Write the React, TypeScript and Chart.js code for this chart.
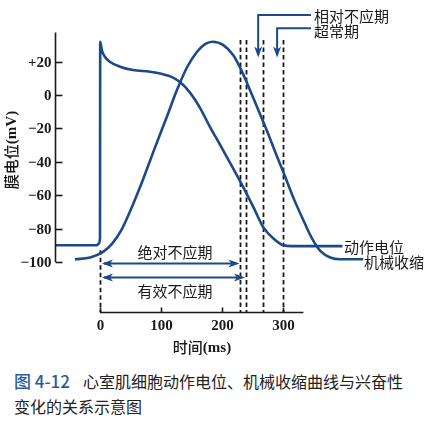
import React, { useEffect, useRef } from "react";
import { Chart, registerables } from "chart.js";

Chart.register(...registerables);

// ---- data (time in ms, potential in mV) ----
const apTime = [-72, -5, -2, 0, 0.4, 3, 8, 16, 33, 54, 82, 102, 118, 131, 148, 164, 180, 197, 230, 251, 267, 284, 300, 315, 397];
const apMv = [-90, -90, -89, -86, 32, 27, 23, 20, 17, 15, 14, 12.6, 10.8, 7.8, 1.2, -7.8, -19, -30, -52, -67, -79, -86, -90, -90.5, -90.5];

const mcTime = [-41, -16, 5, 20, 35, 50, 70, 90, 110, 126, 143, 159, 172, 184, 202, 218, 230, 241, 257, 274, 290, 300, 316, 333, 348, 361, 377, 393, 431];
const mcVal = [-98.4, -97.3, -94, -89, -81, -69, -51, -31.5, -12.5, 3, 17, 26, 30.5, 32, 30, 24, 16, 7, -7, -22, -37, -46, -61, -75, -86.5, -93.5, -97.3, -98.4, -98.4];

const yTicks = [20, 0, -20, -40, -60, -80, -100];
const yTickLabels = ["+20", "0", "\u221220", "\u221240", "\u221260", "\u221280", "\u2212100"];
const xTicks = [0, 100, 200, 300];
const xTickLabels = ["0", "100", "200", "300"];

const dashedTimes = [230, 239, 267, 300];
const arpEnd = 230;
const erpEnd = 239;
const rrpArrowX = 259;
const snpArrowX = 290;

const BLUE = "#1c4a88";
const INK = "#1a1a1a";
const CJK = '"Noto Sans CJK SC", "Noto Sans", sans-serif';
const NUM = '"Liberation Serif", "DejaVu Serif", serif';

function arrowHead(ctx: CanvasRenderingContext2D, x: number, y: number, dir: "l" | "r" | "d") {
  ctx.beginPath();
  if (dir === "l") {
    ctx.moveTo(x, y);
    ctx.lineTo(x + 11, y - 4);
    ctx.lineTo(x + 8, y);
    ctx.lineTo(x + 11, y + 4);
  } else if (dir === "r") {
    ctx.moveTo(x, y);
    ctx.lineTo(x - 11, y - 4);
    ctx.lineTo(x - 8, y);
    ctx.lineTo(x - 11, y + 4);
  } else {
    ctx.moveTo(x, y);
    ctx.lineTo(x - 4, y - 11);
    ctx.lineTo(x, y - 8);
    ctx.lineTo(x + 4, y - 11);
  }
  ctx.closePath();
  ctx.fill();
}

const annotPlugin = {
  id: "annot",
  beforeDatasetsDraw(chart: any) {
    const { ctx, scales } = chart;
    const X = (v: number) => scales.x.getPixelForValue(v);
    const Y = (v: number) => scales.y.getPixelForValue(v);
    ctx.save();
    ctx.strokeStyle = INK;
    ctx.lineWidth = 1.8;
    ctx.setLineDash([4.5, 3]);
    for (const t of dashedTimes) {
      ctx.beginPath();
      ctx.moveTo(Math.round(X(t)) + 0.5, Y(33));
      ctx.lineTo(Math.round(X(t)) + 0.5, Y(-130));
      ctx.stroke();
    }
    ctx.beginPath();
    ctx.moveTo(Math.round(X(0)) + 0.5, Y(-93));
    ctx.lineTo(Math.round(X(0)) + 0.5, Y(-130));
    ctx.stroke();
    ctx.restore();
  },
  afterDatasetsDraw(chart: any) {
    const { ctx, scales } = chart;
    const X = (v: number) => scales.x.getPixelForValue(v);
    const Y = (v: number) => scales.y.getPixelForValue(v);
    ctx.save();
    // y axis
    ctx.strokeStyle = INK;
    ctx.lineWidth = 1.6;
    const ax = Math.round(X(-72)) - 0.5;
    ctx.beginPath();
    ctx.moveTo(ax, Y(37.5));
    ctx.lineTo(ax, Y(-100));
    ctx.stroke();
    ctx.fillStyle = INK;
    ctx.font = `bold 15px ${NUM}`;
    ctx.textAlign = "right";
    ctx.textBaseline = "middle";
    yTicks.forEach((t, i) => {
      const py = Math.round(Y(t)) + 0.5;
      ctx.beginPath();
      ctx.moveTo(ax, py);
      ctx.lineTo(ax + 7, py);
      ctx.stroke();
      ctx.fillText(yTickLabels[i], ax - 4, py + 1);
    });
    // x axis
    const ay = Math.round(Y(-130)) + 0.5;
    ctx.beginPath();
    ctx.moveTo(X(0), ay);
    ctx.lineTo(X(333), ay);
    ctx.stroke();
    ctx.textAlign = "center";
    ctx.textBaseline = "top";
    xTicks.forEach((t, i) => {
      const px = Math.round(X(t)) + 0.5;
      ctx.beginPath();
      ctx.moveTo(px, ay);
      ctx.lineTo(px, ay - 5);
      ctx.stroke();
      ctx.fillText(xTickLabels[i], px, ay + 6);
    });
    // axis titles
    ctx.textBaseline = "middle";
    const t1 = "时间";
    const t2 = "(ms)";
    ctx.font = `500 15px ${CJK}`;
    const w1 = ctx.measureText(t1).width;
    ctx.font = `bold 15px ${NUM}`;
    const w2 = ctx.measureText(t2).width;
    const sx = 202 - (w1 + w2) / 2;
    ctx.textAlign = "left";
    ctx.font = `500 15px ${CJK}`;
    ctx.fillText(t1, sx, 347);
    ctx.font = `bold 15px ${NUM}`;
    ctx.fillText(t2, sx + w1, 348);

    ctx.save();
    ctx.translate(11, 150);
    ctx.rotate(-Math.PI / 2);
    const y1 = "膜电位";
    const y2 = "(mV)";
    ctx.font = `500 15px ${CJK}`;
    const v1 = ctx.measureText(y1).width;
    ctx.font = `bold 15px ${NUM}`;
    const v2 = ctx.measureText(y2).width;
    const sy = -(v1 + v2) / 2;
    ctx.font = `500 15px ${CJK}`;
    ctx.fillText(y1, sy, 0);
    ctx.font = `bold 15px ${NUM}`;
    ctx.fillText(y2, sy + v1, 1);
    ctx.restore();

    // refractory arrows (blue)
    ctx.strokeStyle = BLUE;
    ctx.fillStyle = BLUE;
    ctx.lineWidth = 2;
    const yA = Y(-101);
    const yE = Y(-109.3);
    ctx.beginPath();
    ctx.moveTo(X(0) + 4, yA);
    ctx.lineTo(X(arpEnd) - 4, yA);
    ctx.stroke();
    arrowHead(ctx, X(0) + 2, yA, "l");
    arrowHead(ctx, X(arpEnd) - 1, yA, "r");
    ctx.beginPath();
    ctx.moveTo(X(0) + 4, yE);
    ctx.lineTo(X(erpEnd) - 4, yE);
    ctx.stroke();
    arrowHead(ctx, X(0) + 2, yE, "l");
    arrowHead(ctx, X(erpEnd) - 1, yE, "r");

    // top callout arrows
    const rx = X(rrpArrowX);
    const snx = X(snpArrowX);
    const labelX = 311;
    ctx.beginPath();
    ctx.moveTo(labelX, Y(48));
    ctx.lineTo(rx, Y(48));
    ctx.lineTo(rx, Y(24));
    ctx.stroke();
    arrowHead(ctx, rx, Y(22.5), "d");
    ctx.beginPath();
    ctx.moveTo(labelX, Y(40));
    ctx.lineTo(snx, Y(40));
    ctx.lineTo(snx, Y(24));
    ctx.stroke();
    arrowHead(ctx, snx, Y(22.5), "d");

    // texts
    ctx.fillStyle = INK;
    ctx.font = `15px ${CJK}`;
    ctx.textAlign = "left";
    ctx.textBaseline = "middle";
    ctx.fillText("相对不应期", 314, Y(48) + 1);
    ctx.fillText("超常期", 314, Y(39.5) + 2);
    ctx.fillText("动作电位", 344, 247);
    ctx.fillText("机械收缩", 364, 262);
    ctx.textAlign = "center";
    ctx.fillText("绝对不应期", X(123), 252);
    ctx.fillText("有效不应期", X(123), 291);
    ctx.restore();
  },
};

export default function App() {
  const ref = useRef<HTMLCanvasElement | null>(null);
  useEffect(() => {
    if (!ref.current) return;
    const chart = new Chart(ref.current, {
      type: "scatter",
      data: {
        datasets: [
          {
            label: "动作电位",
            data: apTime.map((t, i) => ({ x: t, y: apMv[i] })),
            showLine: true,
            borderColor: BLUE,
            borderWidth: 2.6,
            pointRadius: 0,
            cubicInterpolationMode: "monotone",
          },
          {
            label: "机械收缩",
            data: mcTime.map((t, i) => ({ x: t, y: mcVal[i] })),
            showLine: true,
            borderColor: BLUE,
            borderWidth: 2.6,
            pointRadius: 0,
            cubicInterpolationMode: "monotone",
          },
        ],
      },
      options: {
        animation: false,
        responsive: false,
        layout: { padding: { left: 56, right: 56, top: 5, bottom: 48 } },
        plugins: { legend: { display: false }, tooltip: { enabled: false }, title: { display: false } },
        scales: {
          x: { type: "linear", min: -72, max: 447, display: false },
          y: { type: "linear", min: -130, max: 54, display: false },
        },
        events: [],
      } as any,
      plugins: [annotPlugin],
    });
    return () => chart.destroy();
  }, []);

  return (
    <div style={{ position: "fixed", left: 0, top: 0, width: 429, height: 426, background: "#fff" }}>
      <canvas ref={ref} width={429} height={360} style={{ display: "block", width: 429, height: 360 }} />
      <div
        style={{
          position: "absolute",
          left: 14,
          top: 368,
          fontFamily: CJK,
          fontSize: 16,
          lineHeight: "25px",
          color: "#222",
          whiteSpace: "nowrap",
        }}
      >
        <span style={{ display: "inline-block", width: 69, color: "#2a5ca6", fontSize: 17, fontWeight: 500 }}>图 4-12</span>
        心室肌细胞动作电位、机械收缩曲线与兴奋性
        <br />
        变化的关系示意图
      </div>
    </div>
  );
}
